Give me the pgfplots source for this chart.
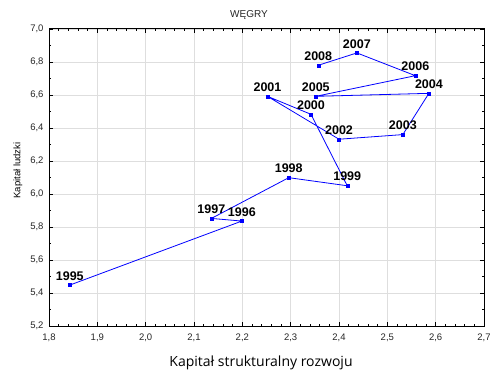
\documentclass[border=0pt]{standalone}
\usepackage{fontspec}
\setmainfont{Liberation Sans}
\newfontfamily\xlabfont{Open Sans}
\usepackage{pgfplots}
\usepackage{pgfplotstable}
\pgfplotsset{compat=1.18}
\pgfplotstableread{
x y lab
1.843 5.448 1995
2.199 5.836 1996
2.136 5.852 1997
2.296 6.099 1998
2.417 6.050 1999
2.342 6.483 2000
2.252 6.592 2001
2.400 6.332 2002
2.532 6.360 2003
2.586 6.610 2004
2.352 6.592 2005
2.558 6.717 2006
2.437 6.855 2007
2.357 6.780 2008
}\datatable
\begin{document}
\begin{tikzpicture}
\begin{axis}[name=ax, scale only axis, width=435pt, height=297pt,
  xmin=1.8, xmax=2.7, ymin=5.2, ymax=7.0,
  xtick={1.8,1.9,2.0,2.1,2.2,2.3,2.4,2.5,2.6,2.7},
  ytick={5.2,5.4,5.6,5.8,6.0,6.2,6.4,6.6,6.8,7.0},
  minor x tick num=4, minor y tick num=1,
  tick align=inside, major tick length=4pt, minor tick length=2pt,
  tick style={black, line width=0.8pt},
  grid=major, major grid style={black!13, line width=0.9pt},
  axis line style={line width=1pt},
  ticklabel style={font=\fontsize{9.5}{11}\selectfont, text=black!85},
  xticklabel style={yshift=-4pt},
  yticklabel style={xshift=-2pt},
  /pgf/number format/use comma,
  /pgf/number format/fixed,
  /pgf/number format/fixed zerofill,
  /pgf/number format/precision=1,
  /pgf/number format/assume math mode=true,
  clip=false,
]
\addplot[blue, line width=0.8pt, mark=square*, mark size=1.5pt,
  mark options={fill=blue, line width=0.3pt},
  point meta=explicit symbolic,
  nodes near coords,
  nodes near coords style={font=\fontsize{12.5}{14}\selectfont\bfseries, text=black, anchor=south, inner sep=0pt, yshift=4.5pt}]
  table[x=x, y=y, meta=lab] {\datatable};
\end{axis}
\node[anchor=base, font=\fontsize{10}{12}\selectfont, text=black!85] at ([xshift=200pt, yshift=11pt]ax.north west) {WĘGRY};
\node[rotate=90, font=\fontsize{9.5}{11}\selectfont] at ([xshift=-31pt, yshift=7pt]ax.west) {Kapitał ludzki};
\node[anchor=base, font=\xlabfont\fontsize{14}{16}\selectfont] at ([xshift=212pt, yshift=-40pt]ax.south west) {Kapitał strukturalny rozwoju};
\pgfresetboundingbox
\path ([xshift=-49pt, yshift=-46pt]ax.south west) rectangle ([xshift=6pt, yshift=29pt]ax.north east);
\end{tikzpicture}
\end{document}
